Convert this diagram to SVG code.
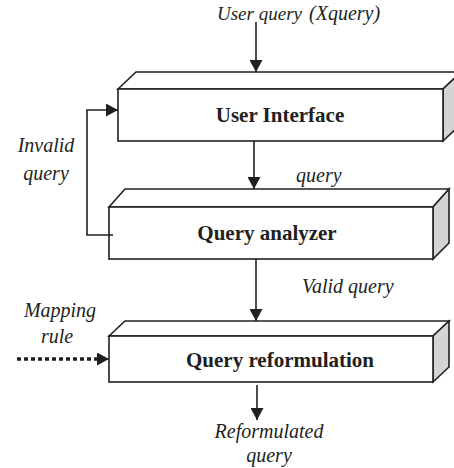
<svg xmlns="http://www.w3.org/2000/svg" width="454" height="468" viewBox="0 0 454 468">
  <style>
    .face { fill: #ffffff; stroke: #231f20; stroke-width: 1.6; stroke-linejoin: miter; }
    .side { fill: #d4d4d4; stroke: #231f20; stroke-width: 1.6; }
    .title { font-family: "Liberation Serif", "DejaVu Serif", serif; font-weight: bold; font-size: 21px; fill: #231f20; text-anchor: middle; }
    .label { font-family: "Liberation Serif", "DejaVu Serif", serif; font-style: italic; font-size: 20px; fill: #231f20; }
    .wire { fill: none; stroke: #231f20; stroke-width: 1.6; }
    .dots { fill: none; stroke: #231f20; stroke-width: 3.5; stroke-dasharray: 4 3; }
  </style>
  <defs>
    <marker id="arrow" viewBox="0 0 12 13" refX="12" refY="6.5" markerWidth="12" markerHeight="13" markerUnits="userSpaceOnUse" orient="auto">
      <path d="M0,0 L12,6.5 L0,13 Z" fill="#231f20"/>
    </marker>
  </defs>

  <rect width="454" height="468" fill="#ffffff"/>

  <!-- User Interface block -->
  <g id="user-interface">
    <polygon class="face" points="118,89 136,72 461,72 443,89"/>
    <polygon class="side" points="443,89 461,72 461,124 443,141"/>
    <rect class="face" x="118" y="89" width="325" height="52"/>
    <text class="title" x="280" y="122">User Interface</text>
  </g>

  <!-- Query analyzer block -->
  <g id="query-analyzer">
    <polygon class="face" points="109,207 125,189 449,189 433,207"/>
    <polygon class="side" points="433,207 449,189 449,243 433,259"/>
    <rect class="face" x="109" y="207" width="324" height="52"/>
    <text class="title" x="267" y="240">Query analyzer</text>
  </g>

  <!-- Query reformulation block -->
  <g id="query-reformulation">
    <polygon class="face" points="109,336 125,321 449,321 433,336"/>
    <polygon class="side" points="433,336 449,321 449,367 433,382"/>
    <rect class="face" x="109" y="336" width="324" height="46"/>
    <text class="title" x="280" y="367">Query reformulation</text>
  </g>

  <!-- Connectors -->
  <g id="connectors">
    <line class="wire" x1="256" y1="22" x2="256" y2="72" marker-end="url(#arrow)"/>
    <line class="wire" x1="254" y1="141" x2="254" y2="189" marker-end="url(#arrow)"/>
    <line class="wire" x1="256" y1="259" x2="256" y2="321" marker-end="url(#arrow)"/>
    <line class="wire" x1="257" y1="385" x2="257" y2="420" marker-end="url(#arrow)"/>
    <path class="wire" d="M113,235 H87 V110 H118" marker-end="url(#arrow)"/>
    <line class="dots" x1="17" y1="359" x2="97" y2="359"/>
    <line class="wire" x1="97" y1="359" x2="109" y2="359" marker-end="url(#arrow)"/>
  </g>

  <!-- Connector labels -->
  <g id="labels">
    <text class="label" y="20"><tspan x="217" font-size="19">User query</tspan><tspan x="309">(Xquery)</tspan></text>
    <text class="label" x="296" y="182">query</text>
    <text class="label" x="302" y="293">Valid query</text>
    <text class="label" x="46" y="152" text-anchor="middle">Invalid</text>
    <text class="label" x="46" y="180" text-anchor="middle">query</text>
    <text class="label" x="60" y="317" text-anchor="middle">Mapping</text>
    <text class="label" x="57" y="343" text-anchor="middle">rule</text>
    <text class="label" x="269" y="438" text-anchor="middle">Reformulated</text>
    <text class="label" x="269" y="462" text-anchor="middle">query</text>
  </g>
</svg>
